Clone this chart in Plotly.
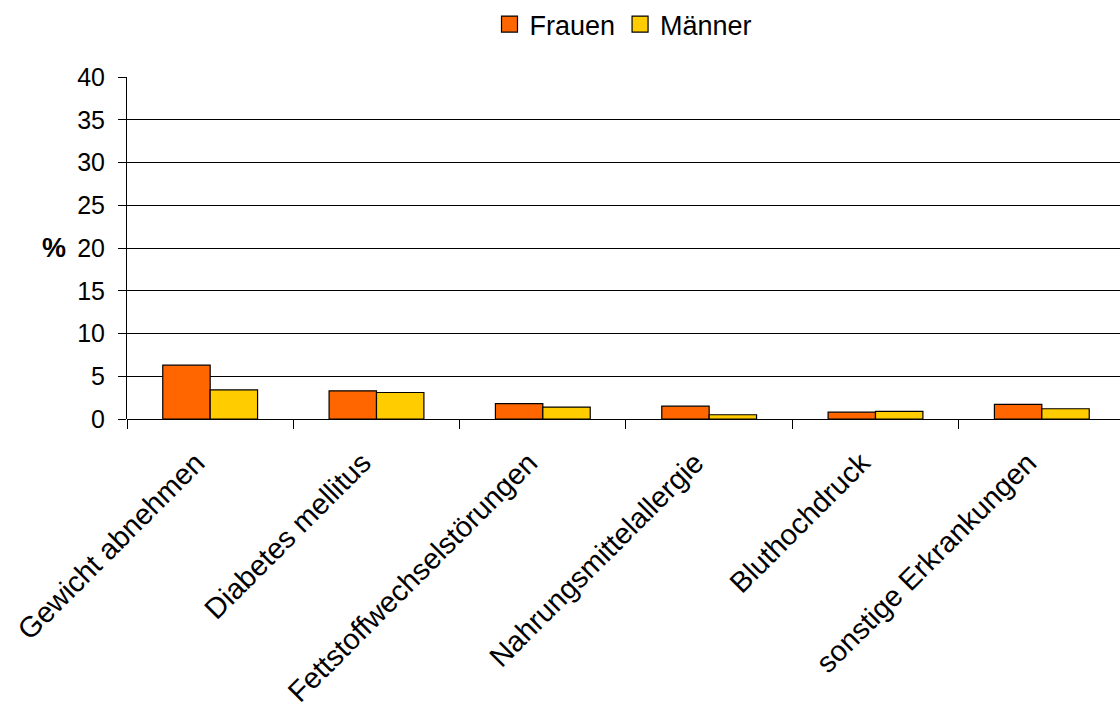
import plotly.graph_objects as go

categories = ["Gewicht abnehmen", "Diabetes mellitus", "Fettstoffwechselstörungen",
              "Nahrungsmittelallergie", "Bluthochdruck", "sonstige Erkrankungen"]
frauen = [6.3, 3.3, 1.8, 1.5, 0.8, 1.7]
maenner = [3.4, 3.1, 1.4, 0.5, 0.9, 1.2]
y_ticks = [0, 5, 10, 15, 20, 25, 30, 35, 40]

series = [("Frauen", frauen, "#FF6600"), ("Männer", maenner, "#FFCC00")]

FONT = "Liberation Sans, Arial, sans-serif"

fig = go.Figure()
for name, values, color in series:
    fig.add_trace(go.Bar(name=name, x=categories, y=values, showlegend=False,
                         marker=dict(color=color, line=dict(color="#000000", width=1.2))))
# legend entries drawn as larger square swatches
for name, values, color in series:
    fig.add_trace(go.Scatter(name=name, x=[None], y=[None], mode="markers",
                             marker=dict(symbol="square", size=16, color=color,
                                         line=dict(color="#000000", width=1.2))))

fig.update_layout(
    width=1120, height=711,
    margin=dict(l=127, r=0, t=77, b=292),
    paper_bgcolor="white", plot_bgcolor="white",
    barmode="group", bargap=0.43, bargroupgap=0,
    font=dict(family=FONT, size=24, color="#000000"),
    showlegend=True,
    legend=dict(orientation="h", x=0.5, xanchor="center", y=1.0, yanchor="top",
                yref="container", font=dict(size=27), itemwidth=30,
                traceorder="normal", tracegroupgap=0),
)

fig.update_xaxes(
    type="category", range=[-0.5, 5.47], automargin=False,
    showline=False, showgrid=False, zeroline=False,
    ticks="outside", tickson="boundaries", ticklen=9, tickcolor="#000000", tickwidth=1,
    tickangle=-45, tickfont=dict(size=29, family=FONT),
    ticklabelstandoff=20, ticklabelshift=-14,
)
fig.update_yaxes(
    range=[0, 40], tickvals=y_ticks, ticktext=[str(v) for v in y_ticks], automargin=False,
    showline=True, linecolor="#000000", linewidth=1,
    showgrid=True, gridcolor="#000000", gridwidth=1,
    zeroline=True, zerolinecolor="#000000", zerolinewidth=1,
    ticks="outside", ticklen=8, tickcolor="#000000", tickwidth=1,
    tickfont=dict(size=25, family=FONT), ticklabelstandoff=8,
)

fig.add_annotation(text="<b>%</b>", xref="paper", yref="paper", x=-0.074, y=0.5,
                   xanchor="center", yanchor="middle", showarrow=False,
                   font=dict(size=27, family=FONT, color="#000000"))

fig.write_html("out.html")
